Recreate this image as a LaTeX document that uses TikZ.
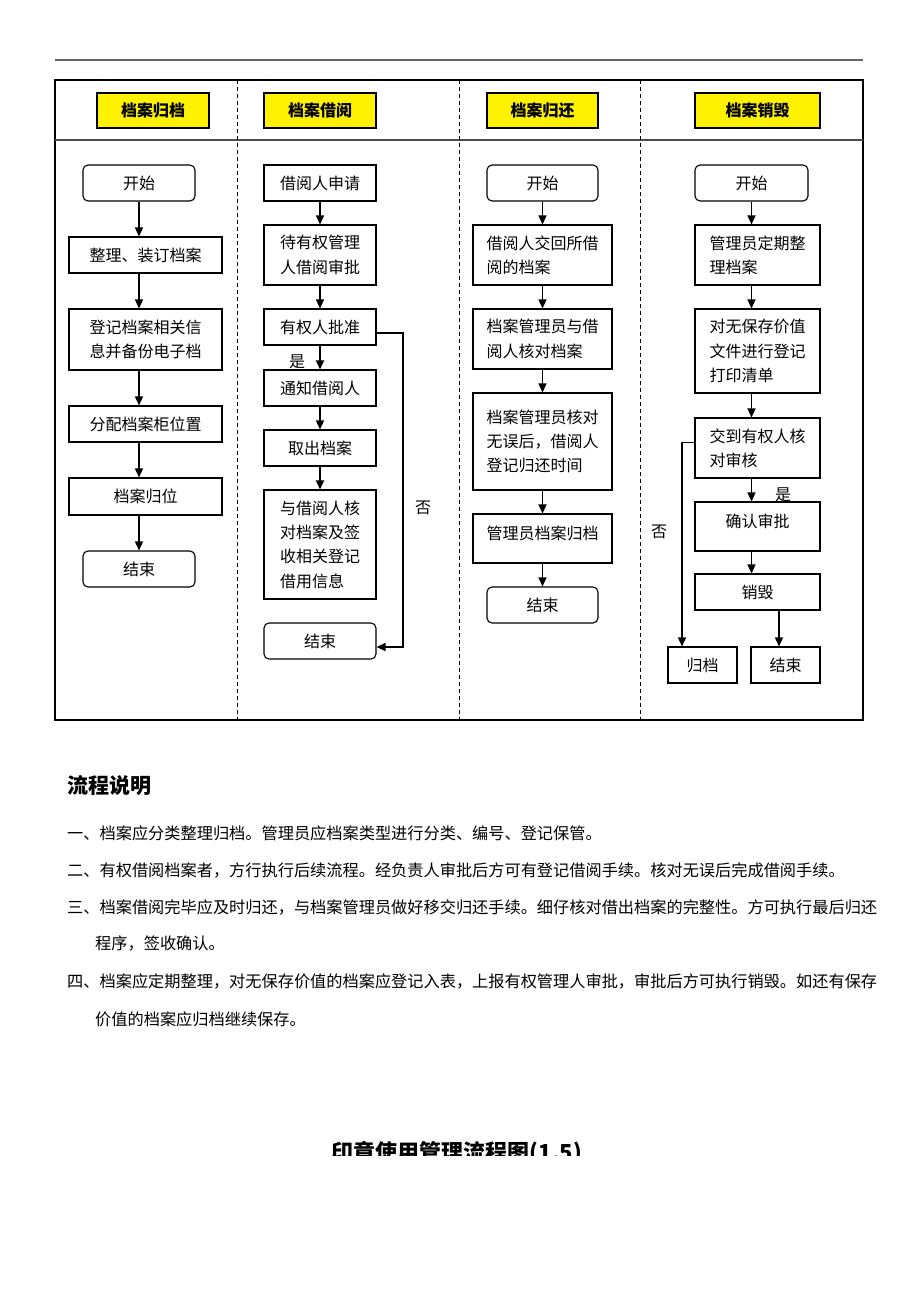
\documentclass[tikz,border=0pt]{standalone}
\usepackage{fontspec}
\setmainfont{Noto Sans CJK SC}
\usetikzlibrary{arrows.meta}
\begin{document}
\begin{tikzpicture}[x=1pt,y=-1pt,
  box/.style={draw,line width=1.1pt,inner sep=0pt,align=left,font=\fontsize{16}{24.3}\selectfont},
  rbox/.style={box,rounded corners=5pt},
  head/.style={box,fill=yellow,font=\fontsize{16}{20}\selectfont\bfseries},
  sz/.style 2 args={minimum width=#1pt,minimum height=#2pt},
  arr/.style={line width=1.3pt,-{Triangle[length=9pt,width=8pt]}},
  lbl/.style={inner sep=0pt,font=\fontsize{16}{20}\selectfont},
  para/.style={anchor=west,inner sep=0pt,font=\fontsize{16.2}{20}\selectfont}]
\useasboundingbox (0,0) rectangle (920,1302);
% frame and lanes
\draw[line width=1.5pt,black!60] (55,60) -- (863,60);
\draw[line width=2pt] (55,80) rectangle (863,720);
\draw[line width=1.3pt,black!70] (55,140) -- (863,140);
\foreach \x in {237,459,640}
  \draw[line width=1pt,dash pattern=on 4pt off 3pt] (\x,80) -- (\x,720);
% headers
\node[head,sz={112}{35}] at (153,110.5) (hdFile) {档案归档};
\node[head,sz={112}{35}] at (320,110.5) (hdLend) {档案借阅};
\node[head,sz={111}{35}] at (542.5,110.5) (hdBack) {档案归还};
\node[head,sz={125}{35}] at (757.5,110.5) (hdKill) {档案销毁};
% lane 1: archiving
\node[rbox,sz={112}{36}] at (139,183) (gdStart) {开始};
\node[box,sz={153}{36}] at (145.5,255) (gdSort) {整理、装订档案};
\node[box,sz={153}{61}] at (145.5,339.5) (gdReg) {登记档案相关信\\息并备份电子档};
\node[box,sz={153}{36}] at (145.5,424) (gdCab) {分配档案柜位置};
\node[box,sz={153}{37}] at (145.5,496.5) (gdPlace) {档案归位};
\node[rbox,sz={112}{36}] at (139,569) (gdEnd) {结束};
\draw[arr] (gdStart) -- (gdStart |- gdSort.north);
\draw[arr] (gdSort.south -| gdStart) -- (gdStart |- gdReg.north);
\draw[arr] (gdReg.south -| gdStart) -- (gdStart |- gdCab.north);
\draw[arr] (gdCab.south -| gdStart) -- (gdStart |- gdPlace.north);
\draw[arr] (gdPlace.south -| gdStart) -- (gdEnd);
% lane 2: lending
\node[box,sz={112}{36}] at (320,183) (jyApply) {借阅人申请};
\node[box,sz={112}{60}] at (320,255) (jyWait) {待有权管理\\人借阅审批};
\node[box,sz={112}{36}] at (320,327) (jyOk) {有权人批准};
\node[box,sz={112}{36}] at (320,388) (jyNotify) {通知借阅人};
\node[box,sz={112}{36}] at (320,448) (jyTake) {取出档案};
\node[box,sz={112}{109}] at (320,544.5) (jyCheck) {与借阅人核\\对档案及签\\收相关登记\\借用信息};
\node[rbox,sz={112}{36}] at (320,641) (jyEnd) {结束};
\coordinate (jyNo) at (403,490);
\draw[arr] (jyApply) -- (jyWait);
\draw[arr] (jyWait) -- (jyOk);
\draw[arr] (jyOk) -- (jyNotify);
\draw[arr] (jyNotify) -- (jyTake);
\draw[arr] (jyTake) -- (jyCheck);
\draw[arr] ([yshift=-6pt]jyOk.east) -| (jyNo) |- ([yshift=-6pt]jyEnd.east);
\node[lbl] at (297,362) (jyYes) {是};
\node[lbl] at (423,508) (jyNoLbl) {否};
% lane 3: returning
\node[rbox,sz={111}{36}] at (542.5,183) (ghStart) {开始};
\node[box,sz={139}{60}] at (542.5,255) (ghReturn) {借阅人交回所借\\阅的档案};
\node[box,sz={139}{60}] at (542.5,339) (ghCheck) {档案管理员与借\\阅人核对档案};
\node[box,sz={139}{97}] at (542.5,441.5) (ghLog) {档案管理员核对\\无误后，借阅人\\登记归还时间};
\node[box,sz={139}{49}] at (542.5,538.5) (ghFile) {\raisebox{5pt}[\height][\depth]{管理员档案归档}};
\node[rbox,sz={111}{36}] at (542.5,605) (ghEnd) {结束};
\draw[arr] (ghStart) -- (ghReturn);
\draw[arr] (ghReturn) -- (ghCheck);
\draw[arr] (ghCheck) -- (ghLog);
\draw[arr] (ghLog) -- (ghFile);
\draw[arr] (ghFile) -- (ghEnd);
% lane 4: destroying
\node[rbox,sz={113}{36}] at (751.5,183) (xhStart) {开始};
\node[box,sz={125}{60}] at (757.5,255) (xhSort) {管理员定期整\\理档案};
\node[box,sz={125}{84}] at (757.5,351) (xhList) {对无保存价值\\文件进行登记\\打印清单};
\node[box,sz={125}{60}] at (757.5,448) (xhAudit) {交到有权人核\\对审核};
\node[box,sz={125}{49}] at (757.5,526.5) (xhConfirm) {\raisebox{5pt}[\height][\depth]{确认审批}};
\node[box,sz={125}{36}] at (757.5,592) (xhDestroy) {销毁};
\node[box,sz={69}{36}] at (702.5,665) (xhArchive) {归档};
\node[box,sz={69}{36}] at (785.5,665) (xhEnd) {结束};
\coordinate (xhNo) at (682,560);
\coordinate (xhDown) at (779,620);
\draw[arr] (xhStart) -- (xhStart |- xhSort.north);
\draw[arr] (xhSort.south -| xhStart) -- (xhStart |- xhList.north);
\draw[arr] (xhList.south -| xhStart) -- (xhStart |- xhAudit.north);
\draw[arr] (xhAudit.south -| xhStart) -- (xhStart |- xhConfirm.north);
\draw[arr] (xhConfirm.south -| xhStart) -- (xhStart |- xhDestroy.north);
\draw[arr] (xhDestroy.south -| xhDown) -- (xhDown |- xhEnd.north);
\draw[arr] ([yshift=5.5pt]xhAudit.west) -| (xhNo |- xhArchive.north);
\node[lbl] at (783,495) (xhYes) {是};
\node[lbl] at (659,532) (xhNoLbl) {否};
% notes
\node[anchor=west,inner sep=0pt,font=\fontsize{21}{24}\selectfont\bfseries] at (67,786) (notesTitle) {流程说明};
\node[para] at (67,833) (note1) {一、档案应分类整理归档。管理员应档案类型进行分类、编号、登记保管。};
\node[para] at (67,870) (note2) {二、有权借阅档案者，方行执行后续流程。经负责人审批后方可有登记借阅手续。核对无误后完成借阅手续。};
\node[para] at (67,907) (note3) {三、档案借阅完毕应及时归还，与档案管理员做好移交归还手续。细仔核对借出档案的完整性。方可执行最后归还};
\node[para] at (95,944) (note3b) {程序，签收确认。};
\node[para] at (67,981) (note4) {四、档案应定期整理，对无保存价值的档案应登记入表，上报有权管理人审批，审批后方可执行销毁。如还有保存};
\node[para] at (95,1019) (note4b) {价值的档案应归档继续保存。};
% next chart title, cut at the page edge
\begin{scope}
  \clip (0,0) rectangle (920,1155);
  \node[anchor=base,inner sep=0pt,font=\fontsize{22}{24}\selectfont\bfseries] at (457,1160) (nextTitle) {印章使用管理流程图(1.5)};
\end{scope}
\end{tikzpicture}
\end{document}
